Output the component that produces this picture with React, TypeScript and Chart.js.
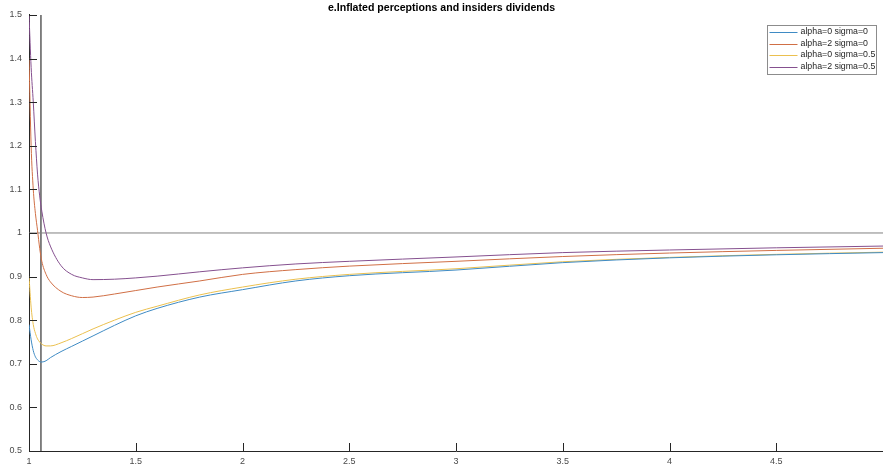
import React, { useEffect, useRef } from 'react';
import { Chart, registerables } from 'chart.js';

Chart.register(...registerables);

const TITLE = 'e.Inflated perceptions and insiders dividends';
const SERIES_LABELS = ['alpha=0 sigma=0', 'alpha=2 sigma=0', 'alpha=0 sigma=0.5', 'alpha=2 sigma=0.5'];
const SERIES_COLORS = ['#3f8bc4', '#d06f45', '#ebc04f', '#85508f'];

const X_VALUES = [1, 1.01, 1.02, 1.03, 1.04, 1.05, 1.06, 1.08, 1.1, 1.15, 1.2, 1.25, 1.3, 1.4, 1.5, 1.6, 1.8, 2, 2.25, 2.5, 3, 3.5, 4, 4.5, 5];
const BLUE = [0.79, 0.755, 0.73, 0.716, 0.709, 0.705, 0.704, 0.707, 0.714, 0.728, 0.74, 0.752, 0.764, 0.788, 0.81, 0.827, 0.853, 0.87, 0.89, 0.902, 0.915, 0.932, 0.943, 0.95, 0.955];
const ORANGE = [1.4, 1.2, 1.1, 1.045, 1.006, 0.965, 0.935, 0.905, 0.888, 0.866, 0.856, 0.852, 0.853, 0.86, 0.868, 0.876, 0.89, 0.905, 0.916, 0.924, 0.935, 0.946, 0.954, 0.96, 0.965];
const YELLOW = [0.9, 0.83, 0.79, 0.77, 0.757, 0.75, 0.745, 0.741, 0.741, 0.748, 0.758, 0.769, 0.78, 0.8, 0.818, 0.832, 0.858, 0.876, 0.894, 0.905, 0.918, 0.934, 0.944, 0.951, 0.956];
const PURPLE = [1.5, 1.38, 1.3, 1.21, 1.135, 1.085, 1.05, 1.0, 0.97, 0.925, 0.905, 0.897, 0.893, 0.894, 0.897, 0.901, 0.911, 0.92, 0.929, 0.935, 0.945, 0.955, 0.961, 0.966, 0.97];

const X_TICKS = [1, 1.5, 2, 2.5, 3, 3.5, 4, 4.5];
const Y_TICKS = [0.5, 0.6, 0.7, 0.8, 0.9, 1, 1.1, 1.2, 1.3, 1.4, 1.5];
const X_MIN = 1;
const X_MAX = 5;
const Y_MIN = 0.5;
const Y_MAX = 1.5;
const REF_Y = 1;
const REF_X = 1.056;

const FONT = "'Liberation Sans', Arial, Helvetica, sans-serif";

const fmt = (v: number) => String(parseFloat(v.toFixed(2)));

const matlabPlugin = {
  id: 'matlabDeco',
  afterDraw(chart: any) {
    const ctx = chart.ctx;
    const xs = chart.scales.x;
    const ys = chart.scales.y;
    const area = chart.chartArea;
    ctx.save();
    ctx.strokeStyle = '#262626';
    ctx.lineWidth = 1;
    const tl = 8;
    ctx.beginPath();
    X_TICKS.forEach((v) => {
      const px = Math.round(xs.getPixelForValue(v)) + 0.5;
      ctx.moveTo(px, area.bottom);
      ctx.lineTo(px, area.bottom - tl);
    });
    Y_TICKS.forEach((v) => {
      const py = Math.round(ys.getPixelForValue(v)) + 0.5;
      ctx.moveTo(area.left, py);
      ctx.lineTo(area.left + tl, py);
    });
    ctx.stroke();

    // legend
    const x0 = 767.5, y0 = 25.5, w = 109, h = 49;
    ctx.fillStyle = '#ffffff';
    ctx.fillRect(x0, y0, w, h);
    ctx.strokeStyle = '#8c8c8c';
    ctx.strokeRect(x0, y0, w, h);
    ctx.font = `8.8px ${FONT}`;
    ctx.textBaseline = 'middle';
    ctx.textAlign = 'left';
    SERIES_LABELS.forEach((lab, i) => {
      const y = y0 + 6.5 + i * 11.5;
      ctx.strokeStyle = SERIES_COLORS[i];
      ctx.beginPath();
      ctx.moveTo(x0 + 2, Math.round(y) + 0.5);
      ctx.lineTo(x0 + 30, Math.round(y) + 0.5);
      ctx.stroke();
      ctx.fillStyle = '#262626';
      ctx.fillText(lab, x0 + 33, y);
    });
    ctx.restore();
  },
};

export default function App() {
  const ref = useRef<HTMLCanvasElement | null>(null);
  useEffect(() => {
    if (!ref.current) return;
    const mk = (ys: number[]) => X_VALUES.map((x, i) => ({ x, y: ys[i] }));
    const series = [BLUE, ORANGE, YELLOW, PURPLE];
    const datasets: any[] = series.map((s, i) => ({
      label: SERIES_LABELS[i],
      data: mk(s),
      borderColor: SERIES_COLORS[i],
      borderWidth: 1,
      pointRadius: 0,
      cubicInterpolationMode: 'monotone',
      fill: false,
    }));
    datasets.push({
      label: 'ref-h',
      data: [{ x: X_MIN, y: REF_Y }, { x: X_MAX, y: REF_Y }],
      borderColor: '#808080',
      borderWidth: 1,
      pointRadius: 0,
    });
    datasets.push({
      label: 'ref-v',
      data: [{ x: REF_X, y: Y_MIN }, { x: REF_X, y: Y_MAX }],
      borderColor: '#333333',
      borderWidth: 1.2,
      pointRadius: 0,
    });
    const chart = new Chart(ref.current, {
      type: 'line',
      data: { datasets },
      plugins: [matlabPlugin],
      options: {
        animation: false,
        responsive: false,
        maintainAspectRatio: false,
        layout: { padding: 0 },
        plugins: {
          legend: { display: false },
          tooltip: { enabled: false },
          title: {
            display: true,
            text: TITLE,
            color: '#000000',
            font: { family: FONT, size: 10.6, weight: 'bold', lineHeight: 1.1 },
            padding: { top: 2, bottom: 1.3 },
          },
        },
        scales: {
          x: {
            type: 'linear',
            min: X_MIN,
            max: X_MAX,
            afterBuildTicks: (s: any) => { s.ticks = X_TICKS.map((v) => ({ value: v })); },
            afterFit: (s: any) => { s.height = 19; },
            grid: { display: false, drawTicks: false },
            border: { display: true, color: '#262626', width: 1 },
            ticks: {
              callback: (v: any) => fmt(Number(v)),
              color: '#4a4a4a',
              font: { family: FONT, size: 9 },
              padding: 5,
              maxRotation: 0,
              autoSkip: false,
            },
          },
          y: {
            type: 'linear',
            min: Y_MIN,
            max: Y_MAX,
            afterBuildTicks: (s: any) => { s.ticks = Y_TICKS.map((v) => ({ value: v })); },
            afterFit: (s: any) => { s.width = 29; },
            grid: { display: false, drawTicks: false },
            border: { display: true, color: '#262626', width: 1 },
            ticks: {
              callback: (v: any) => fmt(Number(v)),
              color: '#4a4a4a',
              font: { family: FONT, size: 9 },
              padding: 7,
              autoSkip: false,
            },
          },
        },
      },
    } as any);
    return () => chart.destroy();
  }, []);
  return (
    <div style={{ position: 'absolute', left: 0, top: 0, width: 883, height: 470, background: '#fff' }}>
      <canvas ref={ref} width={883} height={470} style={{ display: 'block' }} />
    </div>
  );
}
